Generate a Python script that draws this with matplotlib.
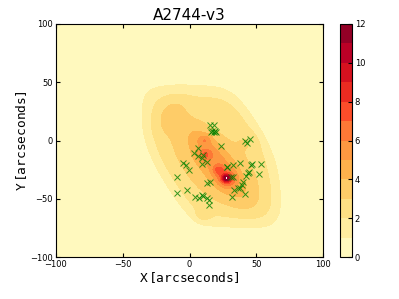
import numpy as np
import matplotlib
matplotlib.use("Agg")
import matplotlib.pyplot as plt

# Flat-topped plateau: axis-aligned box cut by a tilted band
plateau_amp = 2.4
plateau_x, plateau_y = 16, -13.5
plateau_sx, plateau_sy = 45.7, 53.2
band_normal_deg = 30          # band edges run at -60 deg
band_offset, band_sw = 8.5, 37.5
plateau_pow = 7

# Compact blobs (x0, y0, amplitude, sigma_major, sigma_minor, angle_deg, radial power)
blob_x = [-14, 22, 20, 20, 27.7, 27.7, 11.5, 11.5, 21.4, 10, 44]
blob_y = [23, -25, -20, -18, -32.3, -32.3, 0.6, -12.3, -25, -63.7, -1]
blob_amp = [0.8, 0.8, 1.0, 1.0, 5.0, 2.5, 1.3, 2.0, 1.8, 1.0, 0.5]
blob_smaj = [12, 42, 28, 22, 2, 5, 3, 3.5, 3, 4, 6]
blob_smin = [7, 19, 11, 6, 2, 5, 3, 3.5, 3, 4, 6]
blob_ang = [65, -50, -55, -58, 0, 0, 0, 0, 0, 0, 0]
blob_pow = [2, 4, 4, 2, 2, 2, 2, 2, 2, 2, 2]
background = 0.3

# Galaxy positions (arcsec)
gal_x = [15.5, 18, 17, 19, 20, 18, 16, 23.4, 41.6, 43, 45, 6, 3.5, 6, 9, 10, 9.7, 13,
         -4.7, -2.7, -0.3, -9, 27.7, 28.4, 32.7, 38, 47, 46, 53.4, 44.6, 43.6, 42.6,
         51.9, 31.2, 32.2, 40, 39, 37.6, 36, 33.6, 41.2, 31.7, 15.5, 12.7, -9, -1.7,
         4.2, 7.2, 9.2, 10, 13.2, 14.7, 14.5]
gal_y = [13.1, 13, 8.6, 8.6, 7, 7, 7, -4.3, -0.3, -1.7, 1.2, -6, -10.9, -13, -15.3,
         -12.7, -20.3, -18.6, -19.4, -21.4, -25.1, -31.7, -22.3, -22.6, -20.6, -19,
         -20, -21.4, -20, -27, -28, -30.3, -28.9, -31.4, -30.9, -35.7, -38, -40.3,
         -40.3, -42.3, -45.7, -48.6, -35.4, -36.6, -45.1, -42, -48.6, -49.4, -47.1,
         -47.7, -49.7, -51.4, -55.4]

grid = np.linspace(-100, 100, 401)
X, Y = np.meshgrid(grid, grid)
Z = np.full_like(X, background)

nb = np.deg2rad(band_normal_deg)
w = X * np.cos(nb) + Y * np.sin(nb) - band_offset
box = np.abs((X - plateau_x) / plateau_sx) ** plateau_pow + \
    np.abs((Y - plateau_y) / plateau_sy) ** plateau_pow
Z += plateau_amp * np.exp(-0.5 * box) * np.exp(-0.5 * np.abs(w / band_sw) ** plateau_pow)

for x0, y0, a, s1, s2, ang, p in zip(blob_x, blob_y, blob_amp, blob_smaj, blob_smin,
                                     blob_ang, blob_pow):
    t = np.deg2rad(ang)
    u = (X - x0) * np.cos(t) + (Y - y0) * np.sin(t)
    v = -(X - x0) * np.sin(t) + (Y - y0) * np.cos(t)
    r = np.sqrt((u / s1) ** 2 + (v / s2) ** 2)
    Z += a * np.exp(-0.5 * r ** p)

fig = plt.figure(figsize=(3.99, 2.99), dpi=100)
ax = fig.add_axes([0.140, 0.140, 0.670, 0.780])
cax = fig.add_axes([0.852, 0.140, 0.030, 0.780])

cs = ax.contourf(X, Y, Z, levels=np.arange(0, 13), cmap="YlOrRd")
ax.plot(gal_x, gal_y, "x", color="green", ms=4, mew=0.7, alpha=0.8)
ax.set_xlim(-100, 100)
ax.set_ylim(-100, 100)
ax.set_xticks([-100, -50, 0, 50, 100])
ax.set_yticks([-100, -50, 0, 50, 100])
ax.tick_params(direction="in", top=True, right=True, labelsize=6, length=3, pad=2)
ax.set_title("A2744-v3", fontsize=11, pad=3)
ax.set_xlabel(r"$\mathtt{X\ \left[arcseconds\right]}$", fontsize=9.3, labelpad=1)
ax.set_ylabel(r"$\mathtt{Y\ \left[arcseconds\right]}$", fontsize=9.3, labelpad=1)
for s in ax.spines.values():
    s.set_linewidth(0.8)

cb = fig.colorbar(cs, cax=cax, ticks=np.arange(0, 13, 2))
cb.ax.tick_params(labelsize=6, length=3, direction="in", pad=2)
cb.outline.set_linewidth(0.8)

fig.savefig("out.png", dpi=100, facecolor="white")
